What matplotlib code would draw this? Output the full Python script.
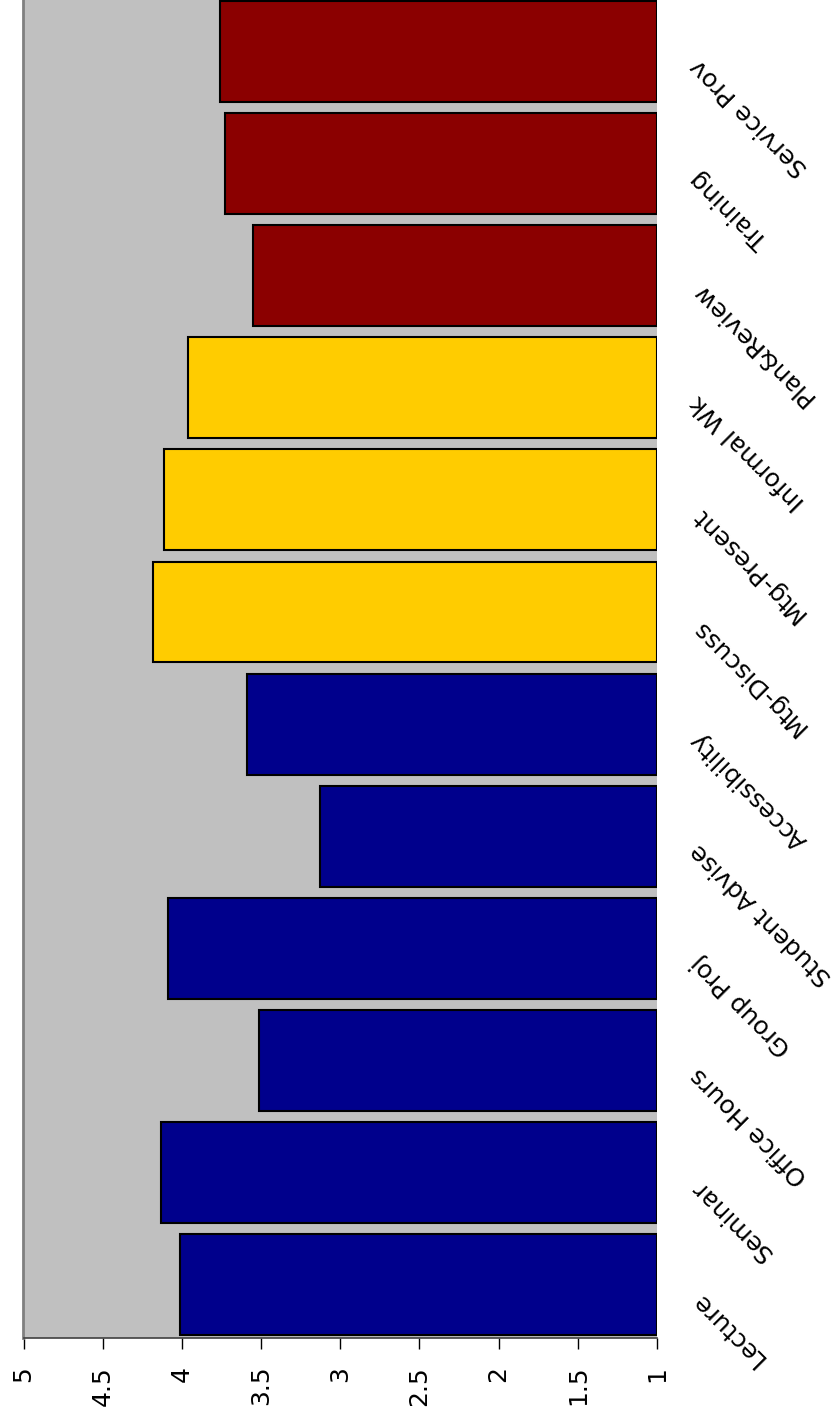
import matplotlib.pyplot as plt
from matplotlib.transforms import ScaledTranslation

categories = ["Lecture", "Seminar", "Office Hours", "Group Proj", "Student Advise",
              "Accessibility", "Mtg-Discuss", "Mtg-Present", "Informal Wk",
              "Plan&Review", "Training", "Service Prov"]
scores = [4.01, 4.13, 3.51, 4.09, 3.13, 3.59, 4.18, 4.11, 3.96, 3.55, 3.73, 3.76]
groups = ["teach"] * 6 + ["meet"] * 3 + ["serve"] * 3
group_colors = {"teach": "#00008C", "meet": "#FFCC00", "serve": "#8B0000"}
x_ticks = [1, 1.5, 2, 2.5, 3, 3.5, 4, 4.5, 5]
x_tick_labels = ["1", "1.5", "2", "2.5", "3", "3.5", "4", "4.5", "5"]

fig = plt.figure(figsize=(8.37, 14.2), dpi=100)
ax = fig.add_axes([23.5 / 837, 82 / 1420, (657 - 23.5) / 837, 1342.6 / 1420])
ax.set_facecolor("#C0C0C0")

base = 1
colors = [group_colors[g] for g in groups]
ax.barh(range(len(categories)), [s - base for s in scores], left=base, height=0.9,
        color=colors, edgecolor="black", linewidth=1.5)

ax.set_xlim(5, 1)
ax.set_ylim(-0.475, 11.5)

ax.set_xticks(x_ticks)
ax.set_xticklabels(x_tick_labels, rotation=90, fontsize=18)
ax.tick_params(axis="x", direction="out", length=8, width=1, pad=12)

ax.yaxis.tick_right()
ax.set_yticks(range(len(categories)))
ax.set_yticklabels(categories, fontsize=18, rotation=135, ha="right", va="center",
                   rotation_mode="anchor")
ax.tick_params(axis="y", length=0, pad=27)
# nudge the slanted labels down a little
shift = ScaledTranslation(0, -0.11, fig.dpi_scale_trans)
for lbl in ax.get_yticklabels():
    lbl.set_transform(lbl.get_transform() + shift)

ax.spines["top"].set_visible(False)
ax.spines["right"].set_visible(False)
ax.spines["left"].set_color("#808080")
ax.spines["left"].set_linewidth(2)
ax.spines["bottom"].set_color("#404040")
ax.spines["bottom"].set_linewidth(1.2)

fig.savefig("out.png", dpi=100)
